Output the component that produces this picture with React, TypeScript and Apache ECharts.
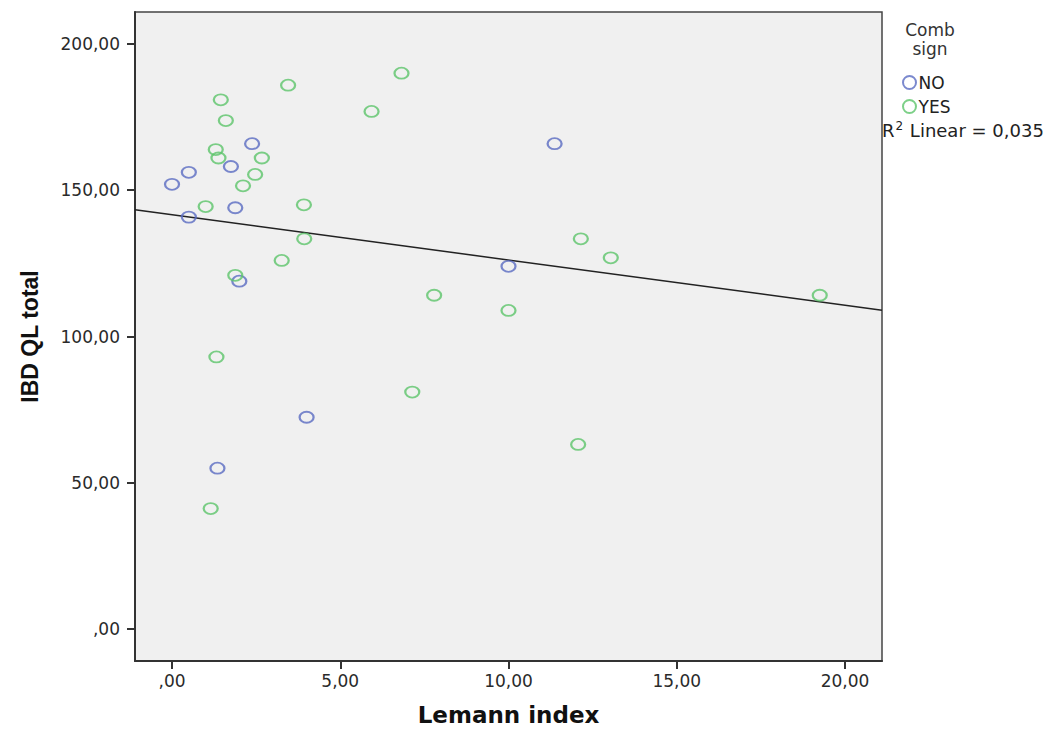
import React, { useEffect, useRef } from "react";
import * as echarts from "echarts";

// Comb sign = NO
const noX = [0.0, 0.5, 0.5, 1.75, 2.38, 1.88, 2.0, 1.35, 4.0, 10.0, 11.37];
const noY = [152.0, 156.1, 140.8, 158.1, 165.9, 144.0, 118.9, 55.0, 72.4, 124.0, 165.9];

// Comb sign = YES
const yesX = [1.45, 1.6, 1.3, 1.38, 2.67, 2.47, 2.11, 1.0, 3.45, 6.82, 5.93, 3.92, 3.93, 12.15, 1.88, 3.26, 1.32, 1.15, 7.79, 10.0, 7.14, 12.07, 13.04, 19.25];
const yesY = [180.9, 173.8, 163.9, 161.0, 161.0, 155.4, 151.5, 144.4, 185.9, 190.0, 176.9, 145.0, 133.4, 133.4, 120.9, 126.0, 93.0, 41.2, 114.1, 108.9, 81.0, 63.1, 126.9, 114.1];

// Linear fit (total)
const fitIntercept = 141.6;
const fitSlope = -1.545;
const r2Label = "0,035";

const xTicks = [0, 5, 10, 15, 20];
const yTicks = [0, 50, 100, 150, 200];
const xMin = -1.1;
const xMax = 21.1;
const yMin = -10.9;
const yMax = 210.9;

const seriesNames = ["NO", "YES"];

const fmt = (v: number) => {
  if (v === 0) return ",00";
  return v.toFixed(2).replace(".", ",");
};

const ELLIPSE = "path://M0,-1A1,1 0 1,1 0,1A1,1 0 1,1 0,-1Z";
const BLUE = "#5a6cc2";
const GREEN = "#5cc46a";
const TICK_FONT = "DejaVu Sans";

export default function App() {
  const ref = useRef<HTMLDivElement>(null);
  useEffect(() => {
    if (!ref.current) return;
    const chart = echarts.init(ref.current, null, { renderer: "svg" });
    const pts = (xs: number[], ys: number[]) => xs.map((x, i) => [x, ys[i]]);
    const option: any = {
      animation: false,
      backgroundColor: "#ffffff",
      grid: {
        left: 135,
        right: 172,
        top: 12,
        bottom: 70,
        show: true,
        backgroundColor: "#f0f0f0",
        borderColor: "#444",
        borderWidth: 1.5,
        containLabel: false,
        outerBoundsMode: "none",
      },
      legend: {
        data: seriesNames,
        orient: "vertical",
        left: 897,
        top: 69,
        itemWidth: 16,
        itemHeight: 13,
        itemGap: 7,
        icon: ELLIPSE,
        itemStyle: { borderWidth: 2 },
        textStyle: { fontFamily: TICK_FONT, fontSize: 17, color: "#222", padding: [0, 0, 0, -4] },
      },
      xAxis: {
        type: "value",
        min: xMin,
        max: xMax,
        name: "Lemann index",
        nameLocation: "middle",
        nameGap: 42,
        nameTextStyle: { fontFamily: "DejaVu Sans", fontWeight: "bold", fontSize: 23, color: "#111" },
        axisLine: { show: true, onZero: false, lineStyle: { color: "#333", width: 2 } },
        axisTick: { show: true, length: 8, customValues: xTicks, lineStyle: { color: "#333", width: 2 } },
        axisLabel: {
          customValues: xTicks,
          formatter: fmt,
          fontFamily: TICK_FONT,
          fontSize: 17,
          color: "#2a2a2a",
          margin: 11,
        },
        splitLine: { show: false },
      },
      yAxis: {
        type: "value",
        min: yMin,
        max: yMax,
        name: "IBD QL total",
        nameLocation: "middle",
        nameGap: 94,
        nameTextStyle: { fontFamily: "Liberation Sans", fontWeight: "bold", fontSize: 23, color: "#111" },
        axisLine: { show: true, onZero: false, lineStyle: { color: "#333", width: 2 } },
        axisTick: { show: true, length: 8, customValues: yTicks, lineStyle: { color: "#333", width: 2 } },
        axisLabel: {
          customValues: yTicks,
          formatter: fmt,
          fontFamily: TICK_FONT,
          fontSize: 17,
          color: "#2a2a2a",
          margin: 15,
        },
        splitLine: { show: false },
      },
      graphic: [
        {
          type: "text",
          x: 930,
          y: 20,
          style: {
            text: "Comb\nsign",
            fontFamily: TICK_FONT,
            fontSize: 17,
            lineHeight: 19,
            fill: "#333",
            align: "center",
            verticalAlign: "top",
          },
        },
        {
          type: "text",
          x: 882,
          y: 120,
          style: {
            text: "R{s|2} Linear = " + r2Label,
            fontFamily: TICK_FONT,
            fontSize: 18,
            fill: "#222",
            verticalAlign: "top",
            rich: {
              s: { fontSize: 12, verticalAlign: "top", padding: [0, 1, 8, 1], fontFamily: TICK_FONT, fill: "#222" },
            },
          },
        },
      ],
      series: [
        {
          name: seriesNames[0],
          type: "scatter",
          symbol: ELLIPSE,
          symbolSize: [14, 11],
          itemStyle: { color: "transparent", borderColor: BLUE, borderWidth: 2 },
          data: pts(noX, noY),
          z: 3,
        },
        {
          name: seriesNames[1],
          type: "scatter",
          symbol: ELLIPSE,
          symbolSize: [14, 11],
          itemStyle: { color: "transparent", borderColor: GREEN, borderWidth: 2 },
          data: pts(yesX, yesY),
          z: 3,
        },
        {
          name: "Linear fit",
          type: "line",
          showSymbol: false,
          symbol: "none",
          lineStyle: { color: "#222", width: 1.5 },
          data: [
            [xMin, fitIntercept + fitSlope * xMin],
            [xMax, fitIntercept + fitSlope * xMax],
          ],
          z: 2,
          silent: true,
        },
      ],
    };
    chart.setOption(option);
    return () => chart.dispose();
  }, []);
  return (
    <div
      ref={ref}
      style={{ position: "fixed", left: 0, top: 0, width: 1054, height: 731, background: "#fff" }}
    />
  );
}
